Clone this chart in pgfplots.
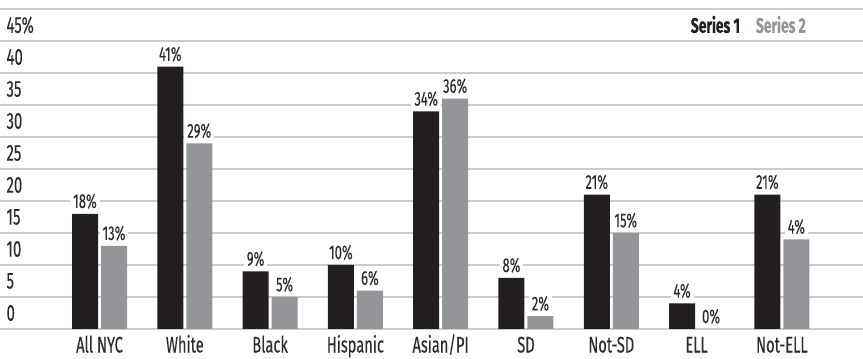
\documentclass[border=0pt]{standalone}
\usepackage{pgfplots}
\pgfplotsset{compat=1.18}
\usepackage{fontspec}
\setmainfont{Fira Sans}[FakeStretch=0.65, FakeBold=0.1, BoldFont={* Bold}, BoldFeatures={FakeStretch=0.66, FakeBold=0.5}]
\definecolor{dark}{HTML}{231F20}
\definecolor{lgray}{HTML}{939598}
\definecolor{gridc}{HTML}{CCCCCC}
\definecolor{txt}{HTML}{2B2B2B}
\begin{document}
\begin{tikzpicture}
\path[use as bounding box] (0,-30pt) rectangle (863pt,329pt);
\begin{axis}[
  at={(0,0)}, anchor=south west,
  scale only axis, width=863pt, height=320pt,
  xmin=-1.1665, xmax=8.951, ymin=0, ymax=50,
  axis line style={draw=none},
  ymajorgrids, grid style={gridc, line width=1.3pt},
  major tick length=0pt,
  xtick={0,...,8},
  xticklabels={All NYC,White,Black,Hispanic,Asian/PI,SD,Not-SD,ELL,Not-ELL},
  xticklabel style={font=\fontsize{22.5}{25}\selectfont, text=txt, anchor=base, inner sep=0pt, yshift=-23.5pt},
  ytick={0,5,...,50},
  yticklabels={0,5,10,15,20,25,30,35,40,45\%,{}},
  yticklabel style={anchor=west, yshift=16pt, xshift=3pt, font=\fontsize{23}{26}\selectfont, text=txt},
  /pgf/number format/assume math mode=true,
  ybar, bar width=26pt,
  nodes near coords, point meta=explicit symbolic,
  every node near coord/.append style={fill=white, inner xsep=3pt, inner ysep=1pt, yshift=4pt, text=txt, font=\fontsize{20}{23}\selectfont},
  legend style={draw=none, fill=none, at={(811pt,304pt)}, anchor=east, legend columns=2,
    /tikz/every even column/.append style={column sep=12pt},
    font=\fontsize{21}{24}\selectfont\bfseries},
  legend image code/.code={},
]
\addplot[fill=dark, draw=none, bar shift=-14.5pt] table[meta=lab] {
x y lab
0 18 18\%
1 41 41\%
2 9 9\%
3 10 10\%
4 34 34\%
5 8 8\%
6 21 21\%
7 4 4\%
8 21 21\%
};
\addlegendentry{\textcolor{dark}{Series 1}}
\addplot[fill=lgray, draw=none, bar shift=14.5pt] table[meta=lab] {
x y lab
0 13 13\%
1 29 29\%
2 5 5\%
3 6 6\%
4 36 36\%
5 2 2\%
6 15 15\%
7 0 0\%
8 14 4\%
};
\addlegendentry{\textcolor{lgray}{Series 2}}
\end{axis}
\end{tikzpicture}
\end{document}
